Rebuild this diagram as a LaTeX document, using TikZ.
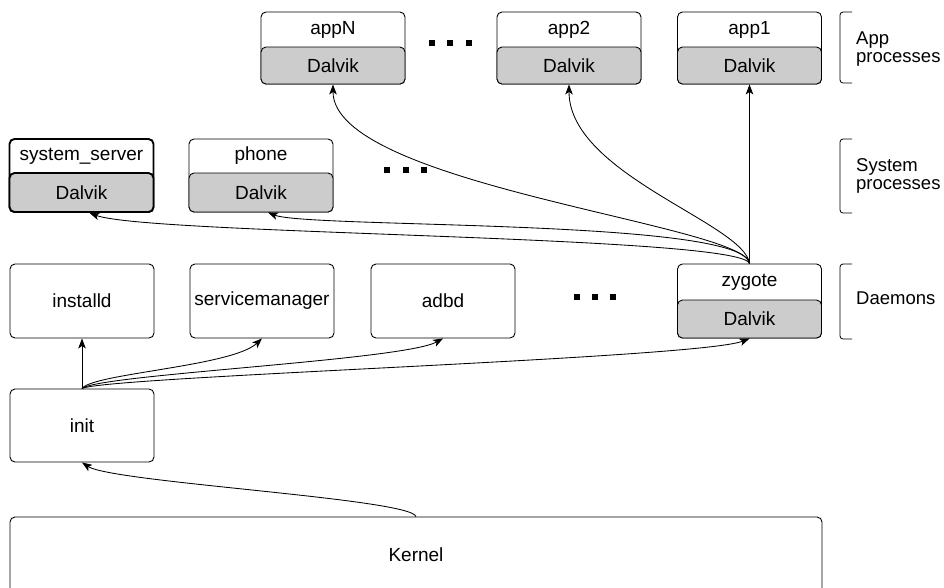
\documentclass[tikz,border=0pt]{standalone}
\usepackage{fontspec}
\setmainfont{Liberation Sans}
\usetikzlibrary{arrows.meta}
\definecolor{dgray}{HTML}{CCCCCC}
\begin{document}
\begin{tikzpicture}[x=1pt,y=-1pt,
  every node/.style={font=\fontsize{19}{19}\selectfont},
  outer/.style={draw, line width=0.9pt, rounded corners=5pt, minimum width=144pt, minimum height=72pt, inner sep=0pt},
  dalvik/.style={draw, fill=dgray, line width=0.9pt, rounded corners=5pt, minimum width=144pt, minimum height=37pt, inner sep=0pt},
  thick box/.style={line width=1.9pt},
  lbl/.style={inner sep=0pt},
  conn/.style={-{Stealth[length=10pt,width=7.5pt,inset=2.5pt]}, line width=0.85pt},
  brack/.style={line width=0.8pt, rounded corners=3pt},
  side/.style={anchor=west, align=left, inner sep=0pt, font=\fontsize{18.5}{18.5}\selectfont},
  dot/.style={fill=black}
]
\useasboundingbox (0,0) rectangle (944,587);

% App processes
\node[outer] (appN) at (333,48) {};
\node[dalvik] (appNd) at (333,65.5) {Dalvik};
\node[lbl] (appNt) at (333,29.5) {appN};
\node[outer] (app2) at (569,48) {};
\node[dalvik] (app2d) at (569,65.5) {Dalvik};
\node[lbl] (app2t) at (569,29.5) {app2};
\node[outer] (app1) at (749.5,48) {};
\node[dalvik] (app1d) at (749.5,65.5) {Dalvik};
\node[lbl] (app1t) at (749.5,29.5) {app1};

% System processes
\node[outer, thick box, minimum height=73pt] (ss) at (81.5,175.5) {};
\node[dalvik, thick box, minimum height=39pt] (ssd) at (81.5,192.5) {Dalvik};
\node[lbl] (sst) at (81.5,156) {system\_server};
\node[outer, minimum height=73pt] (ph) at (261,175.5) {};
\node[dalvik, minimum height=39pt] (phd) at (261,192.5) {Dalvik};
\node[lbl] (pht) at (261,156) {phone};

% Daemons
\node[outer, minimum height=74pt] (inst) at (82,301) {installd};
\node[outer, minimum height=74pt] (sm) at (262,301) {servicemanager};
\node[outer, minimum height=74pt] (adbd) at (443,301) {adbd};
\node[outer, minimum height=74pt] (zyg) at (749.5,301) {};
\node[dalvik, minimum height=38pt] (zygd) at (749.5,319) {Dalvik};
\node[lbl] (zygt) at (749.5,282.5) {zygote};

% init and kernel
\node[outer, minimum height=73pt] (init) at (82,425.5) {init};
\node[outer, minimum width=812pt, minimum height=76pt] (kern) at (416,555) {Kernel};

% dots
\foreach \x in {432,450,469} \fill[dot] (\x-3,40) rectangle ++(6,6);
\foreach \x in {387,406,424} \fill[dot] (\x-3,167) rectangle ++(6,6);
\foreach \x in {577,595,613} \fill[dot] (\x-3,294) rectangle ++(6,6);

% brackets and side labels
\draw[brack] (852,12) -- (840,12) -- (840,83) -- (852,83);
\draw[brack] (852,139) -- (840,139) -- (840,213) -- (852,213);
\draw[brack] (852,264) -- (840,264) -- (840,339) -- (852,339);
\node[side] (lapp) at (856,49) {App\\processes};
\node[side] (lsys) at (856,176) {System\\processes};
\node[side] (ldae) at (856,298) {Daemons};

% zygote fan
\draw[conn] (zyg.north) -- (app1d.south);
\draw[conn] (zyg.north) .. controls +(-5,-40) and +(0,90) .. (app2d.south);
\draw[conn] (zyg.north) .. controls +(-4,-39) and +(0,101) .. (appNd.south);
\draw[conn] (zyg.north) .. controls +(-5,-45) and +(40,16) .. ([xshift=7pt]phd.south);
\draw[conn] (zyg.north) .. controls +(-8,-28) and +(60,22) .. ([xshift=8pt]ssd.south);

% init fan
\draw[conn] (init.north) -- (inst.south);
\draw[conn] (init.north) .. controls +(10,-15) and +(-30,28) .. (sm.south);
\draw[conn] (init.north) .. controls +(15,-14) and +(-40,22) .. (adbd.south);
\draw[conn] (init.north) .. controls +(20,-12) and +(-50,20) .. (zyg.south);

% kernel to init
\draw[conn] (kern.north) .. controls +(-5,-18) and +(30,20) .. (init.south);
\end{tikzpicture}
\end{document}
